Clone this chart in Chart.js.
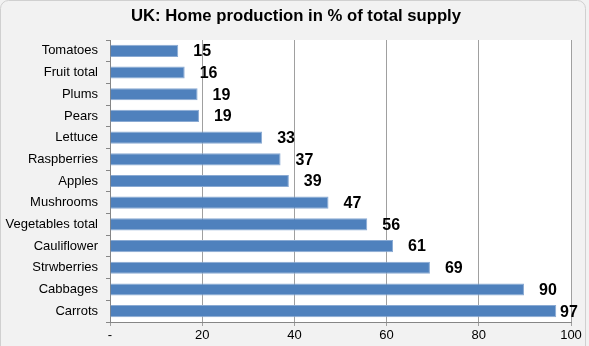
<!DOCTYPE html>
<html>
<head>
<meta charset="utf-8">
<script src="https://cdn.jsdelivr.net/npm/chart.js@4"></script>
<style>
  html, body { margin: 0; padding: 0; background: #f2f2f2; }
  #wrap { width: 589px; height: 346px; }
</style>
</head>
<body>
<div id="wrap"><canvas id="supplyChart" width="589" height="346"></canvas></div>
<script>
// UK home production, % of total supply
const chartTitle = 'UK: Home production in % of total supply';
const categories = ['Tomatoes', 'Fruit total', 'Plums', 'Pears', 'Lettuce', 'Raspberries', 'Apples',
  'Mushrooms', 'Vegetables total', 'Cauliflower', 'Strwberries', 'Cabbages', 'Carrots'];
const shares = [14.8, 16.2, 19.0, 19.3, 33.0, 37.0, 38.8, 47.4, 55.8, 61.4, 69.4, 89.8, 96.8];
const xTickLabels = ['-', '20', '40', '60', '80', '100'];

const FONT = '"Liberation Sans", Arial, sans-serif';

// grey frame + white plot area
const backdrop = {
  id: 'backdrop',
  beforeDraw(chart) {
    const c = chart.ctx, a = chart.chartArea;
    c.save();
    c.fillStyle = '#f2f2f2';
    c.fillRect(0, 0, chart.width, chart.height);
    c.strokeStyle = '#d0d0d0';
    c.lineWidth = 1;
    c.beginPath();
    c.roundRect(0.5, 0.5, chart.width - 4, chart.height + 10, 8);
    c.stroke();
    c.fillStyle = '#fff';
    c.fillRect(a.left, a.top, a.right - a.left, a.bottom - a.top);
    c.restore();
  },
  // title centred on the whole frame, not just the padded box
  afterDraw(chart) {
    const c = chart.ctx;
    c.save();
    c.font = 'bold 16.7px ' + FONT;
    c.fillStyle = '#000';
    c.textAlign = 'center';
    c.textBaseline = 'middle';
    c.fillText(chartTitle, 296, 16);
    c.restore();
  }
};

// value labels beside the bars
const valueLabels = {
  id: 'valueLabels',
  afterDatasetsDraw(chart) {
    const c = chart.ctx;
    const meta = chart.getDatasetMeta(0);
    c.save();
    c.font = 'bold 16px ' + FONT;
    c.fillStyle = '#000';
    c.textBaseline = 'middle';
    c.textAlign = 'left';
    meta.data.forEach((bar, i) => {
      const x = Math.min(bar.x + 15, chart.width - 29);
      c.fillText(String(Math.round(shares[i])), x, bar.y + 1);
    });
    c.restore();
  }
};

const ctx = document.getElementById('supplyChart').getContext('2d');
new Chart(ctx, {
  type: 'bar',
  data: {
    labels: categories,
    datasets: [{
      data: shares,
      backgroundColor: '#4f81bd',
      borderColor: '#8aaad3',
      borderWidth: 1,
      categoryPercentage: 1,
      barPercentage: 0.56
    }]
  },
  options: {
    indexAxis: 'y',
    responsive: false,
    animation: false,
    layout: { padding: { left: 0, right: 18, top: 40, bottom: 0 } },
    plugins: {
      legend: { display: false },
      tooltip: { enabled: false },
      title: { display: false }
    },
    scales: {
      x: {
        min: 0,
        max: 100,
        afterFit(scale) { scale.height = 24; },
        afterBuildTicks(scale) {
          scale.ticks = xTickLabels.map((t, i) => ({ value: i * 20 }));
        },
        ticks: {
          color: '#000',
          font: { family: FONT, size: 13 },
          padding: 2,
          maxRotation: 0,
          callback: (v, i) => xTickLabels[i]
        },
        grid: { color: '#a0a0a0', tickLength: 4 },
        border: { color: '#868686' }
      },
      y: {
        afterFit(scale) { scale.width = 110; },
        ticks: {
          color: '#000',
          font: { family: FONT, size: 13 },
          padding: 8,
          autoSkip: false
        },
        grid: { offset: true, drawOnChartArea: false, tickLength: 4, color: '#868686' },
        border: { color: '#868686' }
      }
    }
  },
  plugins: [backdrop, valueLabels]
});
</script>
</body>
</html>
